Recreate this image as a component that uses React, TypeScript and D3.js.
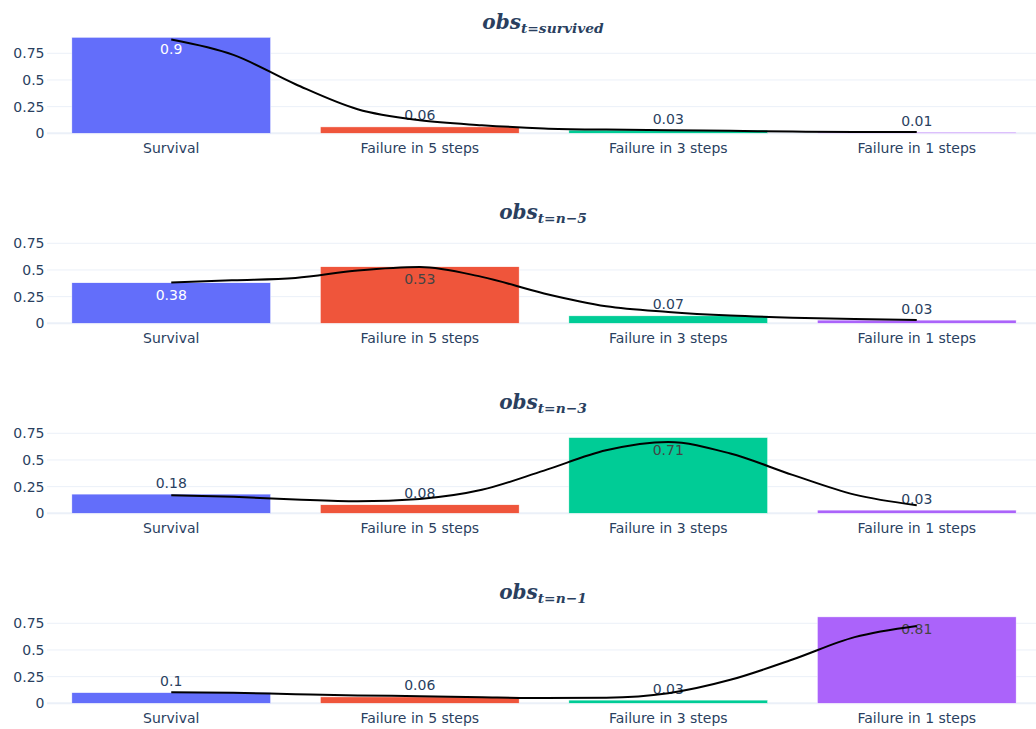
import React from "react";
import * as d3 from "d3";

const categories = ["Survival", "Failure in 5 steps", "Failure in 3 steps", "Failure in 1 steps"];
const barColors = ["#636efa", "#EF553B", "#00cc96", "#ab63fa"];
const insideTextColors = ["#ffffff", "#444444", "#444444", "#444444"];

const survivedValues = [0.9, 0.06, 0.03, 0.01];
const n5Values = [0.38, 0.53, 0.07, 0.03];
const n3Values = [0.18, 0.08, 0.71, 0.03];
const n1Values = [0.1, 0.06, 0.03, 0.81];

// positions of the smoothed line, in category index units
const curvePositions = [0, 0.25, 0.5, 0.75, 1, 1.25, 1.5, 1.75, 2, 2.25, 2.5, 2.75, 3];
const survivedCurve = [0.879, 0.735, 0.46, 0.226, 0.122, 0.076, 0.046, 0.035, 0.029, 0.023, 0.016, 0.013, 0.012];
const n5Curve = [0.382, 0.403, 0.425, 0.495, 0.528, 0.435, 0.28, 0.16, 0.107, 0.073, 0.053, 0.04, 0.032];
const n3Curve = [0.169, 0.155, 0.13, 0.113, 0.135, 0.22, 0.4, 0.59, 0.668, 0.56, 0.36, 0.175, 0.076];
const n1Curve = [0.104, 0.098, 0.085, 0.074, 0.067, 0.057, 0.05, 0.053, 0.095, 0.22, 0.41, 0.62, 0.725];

const yTicks = [0, 0.25, 0.5, 0.75];
const yTickLabels = ["0", "0.25", "0.5", "0.75"];

const titleSubscripts = ["t=survived", "t=n\u22125", "t=n\u22123", "t=n\u22121"];
const panelValues = [survivedValues, n5Values, n3Values, n1Values];
const panelCurves = [survivedCurve, n5Curve, n3Curve, n1Curve];

const W = 1036;
const H = 729;
const plotLeft = 47;
const plotRight = 1041;
const firstZero = 133.3;
const panelStep = 190;
const pxPerUnit = 106.7;
const font = "'DejaVu Sans', Verdana, sans-serif";
const textColor = "#2a3f5f";
const gridColor = "#ebf0f8";

function Panel({ index }: { index: number }) {
  const zero = firstZero + index * panelStep;
  const values = panelValues[index];
  const curve = panelCurves[index];
  const x = d3.scaleBand<string>().domain(categories).range([plotLeft, plotRight]).paddingInner(0.2).paddingOuter(0.1);
  const xl = d3.scaleLinear().domain([-0.5, 3.5]).range([plotLeft, plotRight]);
  const y = d3.scaleLinear().domain([0, 1]).range([zero, zero - pxPerUnit]);
  const line = d3
    .line<number>()
    .x((_, i) => xl(curvePositions[i]))
    .y((d) => y(d))
    .curve(d3.curveMonotoneX);
  const titleX = (plotLeft + plotRight) / 2 - 1;
  const titleY = zero - 104;
  return (
    <g>
      {yTicks.map((t, i) => (
        <g key={t}>
          <line x1={plotLeft} x2={plotRight} y1={y(t)} y2={y(t)} stroke={gridColor} strokeWidth={t === 0 ? 2 : 1} />
          <text x={44.5} y={y(t)} dy="0.35em" textAnchor="end" fontFamily={font} fontSize={14} fill={textColor}>
            {yTickLabels[i]}
          </text>
        </g>
      ))}
      {categories.map((c, i) => {
        const v = values[i];
        const top = y(v);
        const h = zero - top;
        const inside = h > 22;
        const cx = (x(c) as number) + x.bandwidth() / 2;
        return (
          <g key={c}>
            <rect x={x(c)} y={top} width={x.bandwidth()} height={h} fill={barColors[i]} stroke="#ffffff" strokeWidth={0.5} />
            <text
              x={cx}
              y={inside ? top + 17 : top - 6.5}
              textAnchor="middle"
              fontFamily={font}
              fontSize={14}
              fill={inside ? insideTextColors[i] : textColor}
            >
              {String(v)}
            </text>
            <text x={cx} y={zero + 19.5} textAnchor="middle" fontFamily={font} fontSize={14} fill={textColor}>
              {c}
            </text>
          </g>
        );
      })}
      <path d={line(curve) || ""} fill="none" stroke="#000000" strokeWidth={2} />
      <text
        x={titleX}
        y={titleY}
        textAnchor="middle"
        fontFamily="'DejaVu Serif', serif"
        fontStyle="italic"
        fontWeight="bold"
        fill={textColor}
      >
        <tspan fontSize={20}>obs</tspan>
        <tspan fontSize={13.8} dy={3.5}>{titleSubscripts[index]}</tspan>
      </text>
    </g>
  );
}

export default function App() {
  return (
    <svg
      width={W}
      height={H}
      style={{ position: "absolute", left: 0, top: 0, background: "#ffffff", overflow: "hidden" }}
    >
      <rect x={0} y={0} width={W} height={H} fill="#ffffff" />
      {[0, 1, 2, 3].map((i) => (
        <Panel key={i} index={i} />
      ))}
    </svg>
  );
}
